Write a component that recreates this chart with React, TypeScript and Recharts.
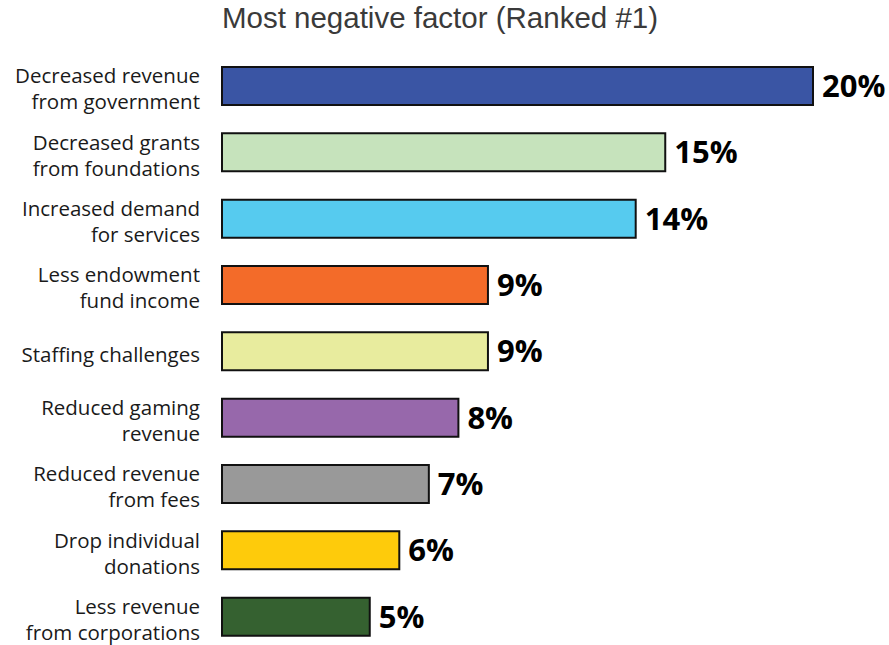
import { BarChart, Bar, XAxis, YAxis, Cell, LabelList } from 'recharts';

const categories = [
  'Decreased revenue\nfrom government',
  'Decreased grants\nfrom foundations',
  'Increased demand\nfor services',
  'Less endowment\nfund income',
  'Staffing challenges',
  'Reduced gaming\nrevenue',
  'Reduced revenue\nfrom fees',
  'Drop individual\ndonations',
  'Less revenue\nfrom corporations',
];

const values = [20, 15, 14, 9, 9, 8, 7, 6, 5];

const barColors = [
  '#3a55a4',
  '#c6e3bc',
  '#56cbef',
  '#f36b29',
  '#e8ec9e',
  '#9768ab',
  '#999999',
  '#fecb0b',
  '#356130',
];

const data = categories.map((name, i) => ({ name, value: values[i] }));

function CategoryTick(props: any) {
  const { x, y, payload } = props;
  const lines: string[] = String(payload.value).split('\n');
  const lineHeight = 26;
  const startY = y + 5 - ((lines.length - 1) * lineHeight) / 2;
  return (
    <text
      x={x - 14}
      y={startY}
      textAnchor="end"
      dominantBaseline="middle"
      fill="#1a1a1a"
      fontSize={20.5}
      fontFamily="'Open Sans', 'Noto Sans', sans-serif"
    >
      {lines.map((line, i) => (
        <tspan key={i} x={x - 14} y={startY + i * lineHeight}>
          {line}
        </tspan>
      ))}
    </text>
  );
}

export default function App() {
  return (
    <div style={{ position: 'absolute', left: 0, top: 0, width: 889, height: 645, overflow: 'hidden', background: '#fff' }}>
      <div
        style={{
          position: 'absolute',
          left: 0,
          width: 880,
          top: 1,
          textAlign: 'center',
          fontFamily: "'Liberation Sans', Arial, sans-serif",
          fontSize: 29.5,
          color: '#3a3a3a',
        }}
      >
        Most negative factor (Ranked #1)
      </div>
      <BarChart
        width={889}
        height={650}
        data={data}
        layout="vertical"
        margin={{ top: 53, right: 76, bottom: 0, left: 0 }}
        barSize={38}
      >
        <XAxis type="number" domain={[0, 20]} hide />
        <YAxis
          type="category"
          dataKey="name"
          width={222}
          axisLine={false}
          tickLine={false}
          tick={<CategoryTick />}
          interval={0}
        />
        <Bar dataKey="value" stroke="#111" strokeWidth={2} isAnimationActive={false}>
          {data.map((_, i) => (
            <Cell key={i} fill={barColors[i]} />
          ))}
          <LabelList
            dataKey="value"
            position="right"
            offset={9}
            formatter={(v: any) => `${v}%`}
            fill="#000"
            fontSize={31}
            fontWeight={700}
            fontFamily="'Open Sans', 'Noto Sans', sans-serif"
          />
        </Bar>
      </BarChart>
    </div>
  );
}
